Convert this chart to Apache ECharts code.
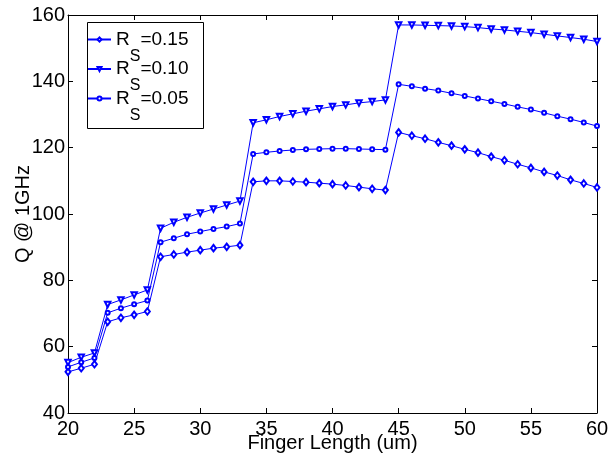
<!DOCTYPE html>
<html>
<head>
<meta charset="utf-8">
<script src="https://cdn.jsdelivr.net/npm/echarts@6/dist/echarts.min.js"></script>
<style>html,body{margin:0;padding:0;background:#fff}#c{width:611px;height:457px}</style>
</head>
<body>
<div id="c"></div>
<script>
const fingerLength = [20,21,22,23,24,25,26,27,28,29,30,31,32,33,34,35,36,37,38,39,40,41,42,43,44,45,46,47,48,49,50,51,52,53,54,55,56,57,58,59,60];
const rs015 = [52.4,53.5,54.7,67.5,68.7,69.6,70.6,87.1,87.8,88.5,89.1,89.7,90.1,90.6,109.7,110.0,110.0,109.8,109.6,109.3,109.0,108.6,108.1,107.6,107.2,124.6,123.6,122.7,121.6,120.6,119.5,118.5,117.3,116.2,115.0,113.9,112.7,111.6,110.3,109.2,108.0];
const rs010 = [55.2,56.8,58.1,72.7,74.1,75.6,77.1,95.7,97.5,99.0,100.3,101.5,102.7,103.9,127.5,128.4,129.4,130.2,131.0,131.7,132.4,132.9,133.5,133.9,134.4,157.0,157.0,156.9,156.8,156.7,156.5,156.2,155.8,155.5,155.1,154.7,154.2,153.7,153.2,152.7,152.0];
const rs005 = [53.9,55.3,56.6,70.2,71.6,72.8,73.9,91.5,92.7,93.9,94.7,95.5,96.2,97.1,118.1,118.6,119.0,119.3,119.5,119.6,119.7,119.7,119.6,119.5,119.4,139.1,138.5,137.8,137.2,136.4,135.6,134.8,134.0,133.2,132.3,131.5,130.5,129.5,128.6,127.6,126.5];
const seriesNames = ['Rs=0.15','Rs=0.10','Rs=0.05'];
const legendLabels = {'Rs=0.15':'0.15','Rs=0.10':'0.10','Rs=0.05':'0.05'};
const xTitle = 'Finger Length (um)';
const yTitle = 'Q @ 1GHz';

const FONT = '"Liberation Sans", Arial, sans-serif';
const BLUE = '#0000ff';
function pairs(ys){ return fingerLength.map((x,i)=>[x, ys[i]]); }

const chart = echarts.init(document.getElementById('c'));
const axisCommon = {
  axisLine:{show:true,lineStyle:{color:'#000',width:1}},
  axisTick:{show:true,inside:true,length:5,lineStyle:{color:'#000'}},
  splitLine:{show:false},
  nameMoveOverlap:false
};
function mkSeries(name, data, symbol, size, rotate){
  return {
    name, type:'line', data:pairs(data), symbol, symbolSize:size, symbolRotate:rotate||0,
    lineStyle:{color:BLUE,width:1}, itemStyle:{color:BLUE,borderColor:BLUE,borderWidth:1},
    emphasis:{disabled:true}, animation:false, z:2
  };
}
chart.setOption({
  animation:false,
  backgroundColor:'#fff',
  grid:{left:68,right:14,top:15,bottom:44,containLabel:false,outerBoundsMode:'none'},
  graphic:[{
    type:'rect', left:87, top:22, z:3,
    shape:{x:0,y:0,width:116,height:106},
    style:{fill:'#fff',stroke:'#000',lineWidth:1}
  }],
  legend:{
    orient:'vertical', left:87, top:30,
    data:seriesNames,
    padding:0,
    itemWidth:23, itemHeight:5, itemGap:-5,
    selectedMode:false,
    z:5,
    formatter: n => '{r|R}{s|S}{n|=' + legendLabels[n] + '}',
    textStyle:{
      color:'#000', fontFamily:FONT, fontSize:19,
      rich:{
        r:{fontSize:19,fontFamily:FONT,color:'#000'},
        s:{fontSize:16,fontFamily:FONT,color:'#000',padding:[34,0,0,0]},
        n:{fontSize:19,fontFamily:FONT,color:'#000'}
      }
    }
  },
  xAxis:[
    Object.assign({type:'value',min:20,max:60,interval:5,position:'bottom',
      name:xTitle,nameLocation:'middle',nameGap:20,
      nameTextStyle:{color:'#000',fontFamily:FONT,fontSize:20},
      axisLabel:{color:'#000',fontFamily:FONT,fontSize:20,margin:6}}, axisCommon),
    Object.assign({type:'value',min:20,max:60,interval:5,position:'top',
      axisLabel:{show:false}}, axisCommon)
  ],
  yAxis:[
    Object.assign({type:'value',min:40,max:160,interval:20,position:'left',
      name:yTitle,nameLocation:'middle',nameGap:35,
      nameTextStyle:{color:'#000',fontFamily:FONT,fontSize:20},
      axisLabel:{color:'#000',fontFamily:FONT,fontSize:20,margin:3}}, axisCommon),
    Object.assign({type:'value',min:40,max:160,interval:20,position:'right',
      axisLabel:{show:false}}, axisCommon)
  ],
  series:[
    mkSeries(seriesNames[0], rs015, 'emptyDiamond', [5,6.5]),
    mkSeries(seriesNames[1], rs010, 'emptyTriangle', 5.5, 180),
    mkSeries(seriesNames[2], rs005, 'emptyCircle', 4)
  ]
});
</script>
</body>
</html>
